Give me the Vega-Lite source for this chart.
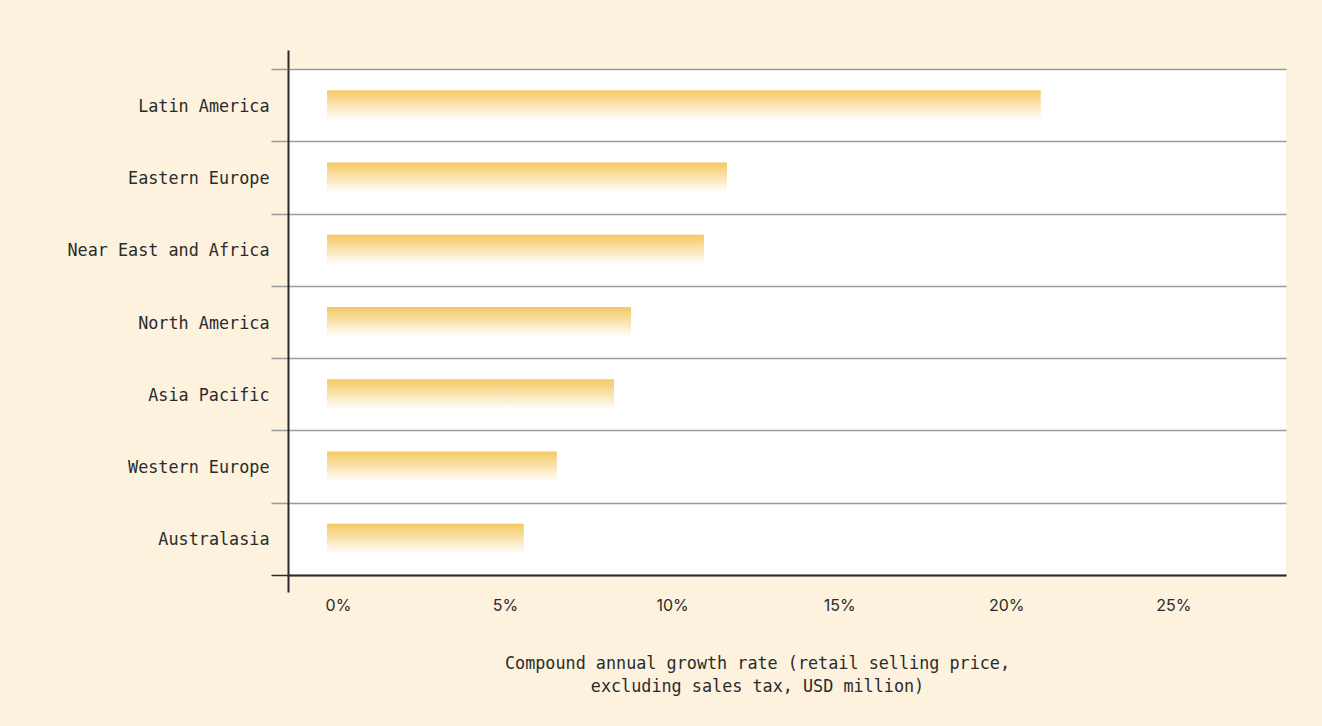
{
  "$schema": "https://vega.github.io/schema/vega-lite/v6.json",
  "width": 998,
  "height": 506,
  "autosize": {"type": "none"},
  "padding": {"left": 288, "top": 69, "right": 36, "bottom": 151},
  "background": "#fcf2de",
  "config": {
    "view": {"fill": "#ffffff", "stroke": null},
    "font": "DejaVu Sans Mono"
  },
  "data": {
    "values": [
      {"region": "Latin America", "cagr": 21.36},
      {"region": "Eastern Europe", "cagr": 11.97},
      {"region": "Near East and Africa", "cagr": 11.28},
      {"region": "North America", "cagr": 9.10},
      {"region": "Asia Pacific", "cagr": 8.59},
      {"region": "Western Europe", "cagr": 6.88},
      {"region": "Australasia", "cagr": 5.89}
    ]
  },
  "layer": [
    {
      "mark": {
        "type": "bar",
        "size": 30,
        "fill": {
          "gradient": "linear",
          "x1": 0, "y1": 0, "x2": 0, "y2": 1,
          "stops": [
            {"offset": 0, "color": "#f5c862"},
            {"offset": 1, "color": "#ffffff"}
          ]
        }
      },
      "encoding": {
        "y": {
          "field": "region",
          "type": "nominal",
          "sort": null,
          "scale": {"paddingInner": 0, "paddingOuter": 0},
          "axis": {
            "title": null,
            "tickBand": "extent",
            "grid": true,
            "gridColor": "#9a9a9a",
            "gridWidth": 1.5,
            "tickColor": {"condition": {"test": "datum.value === 'Australasia'", "value": "#2b2b2b"}, "value": "#9a9a9a"},
            "tickWidth": 1.5,
            "tickSize": 17,
            "domainColor": "#2b2b2b",
            "domainWidth": 2,
            "labelFont": "DejaVu Sans Mono",
            "labelFontSize": 16.8,
            "labelColor": "#2b2b2b",
            "labelPadding": 2,
            "labelLimit": 300,
            "labelOffset": 1
          }
        },
        "x": {
          "field": "cagr",
          "type": "quantitative",
          "scale": {"domain": [-1.167, 28.7], "nice": false, "zero": false},
          "axis": {
            "orient": "bottom",
            "zindex": 1,
            "values": [-1.167, 0, 5, 10, 15, 20, 25],
            "grid": false,
            "tickColor": {"condition": {"test": "datum.value < 0", "value": "#2b2b2b"}, "value": "transparent"},
            "tickWidth": 2,
            "tickSize": 17,
            "domainColor": "#2b2b2b",
            "domainWidth": 2,
            "labelExpr": "datum.value < 0 ? '' : datum.value + '%'",
            "labelOffset": 11,
            "labelPadding": 5,
            "labelFont": "Inter",
            "labelFontSize": 16,
            "labelColor": "#2b2b2b",
            "labelFlush": false,
            "labelOverlap": false,
            "title": ["Compound annual growth rate (retail selling price,", "excluding sales tax, USD million)"],
            "titleFont": "DejaVu Sans Mono",
            "titleFontSize": 16.8,
            "titleFontWeight": "normal",
            "titleColor": "#2b2b2b",
            "titleX": 469,
            "titleY": 93,
            "titleAlign": "center",
            "titleBaseline": "alphabetic",
            "titleLineHeight": 23
          }
        },
        "x2": {"datum": 0}
      }
    },
    {
      "mark": {"type": "bar", "opacity": 0},
      "encoding": {
        "y": {"field": "region", "type": "nominal", "sort": null},
        "x": {
          "field": "cagr",
          "type": "quantitative",
          "axis": {
            "orient": "top",
            "values": [-1.167],
            "grid": false,
            "labels": false,
            "domain": false,
            "title": null,
            "tickColor": "#2b2b2b",
            "tickWidth": 2,
            "tickSize": 19
          }
        }
      }
    }
  ],
  "resolve": {"axis": {"x": "independent"}}
}
